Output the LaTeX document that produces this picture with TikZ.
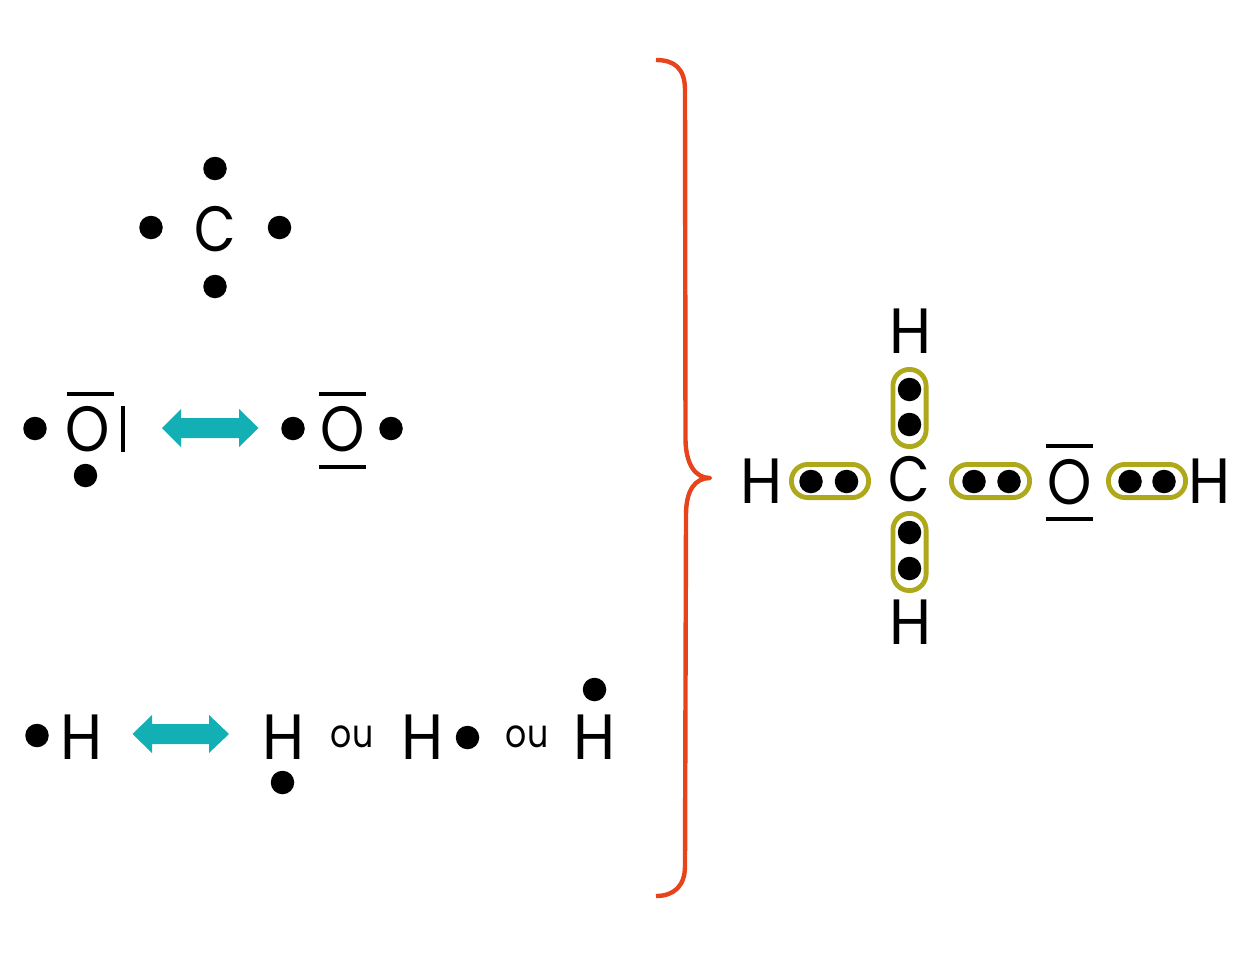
\documentclass[tikz,border=0pt]{standalone}
\usepackage{fontspec}
\setmainfont{Poppins}
\newcommand{\elH}{\scalebox{0.95}[1]{H}}
\newcommand{\elO}{\scalebox{0.88}[1]{O}}
\newcommand{\elC}{\scalebox{0.84}[1]{C}}
\tikzset{
  atom/.style={inner sep=0pt,outer sep=0pt,text=black,font=\fontsize{64}{64}\selectfont},
  small/.style={inner sep=0pt,outer sep=0pt,text=black,font=\fontsize{39}{39}\selectfont},
  dot/.style={circle,fill=black,minimum size=23.5pt,inner sep=0pt,outer sep=0pt},
  pair/.style={draw=pairc,line width=4.8pt,rounded corners=16.5pt,fill=none},
  bar/.style={draw=black,line width=3.6pt},
  swap/.style={fill=teal1,draw=none},
  brace/.style={draw=bracec,line width=4.4pt,line join=round}
}
\definecolor{pairc}{HTML}{ADA91A}
\definecolor{teal1}{HTML}{12B0B5}
\definecolor{bracec}{HTML}{E8441C}
\begin{document}
\begin{tikzpicture}[x=1pt,y=-1pt]
\useasboundingbox (0,0) rectangle (1251,961);
% C
\node[atom] (c0) at (215,229.5) {\elC};
\node[dot] (c1) at (215,168.5) {};
\node[dot] (c2) at (151,227.5) {};
\node[dot] (c3) at (279.5,227.5) {};
\node[dot] (c4) at (215,286.5) {};
% O row
\node[dot] (o1d1) at (35,428.5) {};
\node[atom] (o1) at (88,429.5) {\elO};
\node[dot] (o1d2) at (85.5,475.5) {};
\draw[bar] (67,394) -- (114,394);
\draw[bar] (123,406) -- (123,452);
\fill[swap] (162,428) -- (181,409) -- (181,418) -- (239,418) -- (239,409) -- (258.5,428) -- (239,447) -- (239,438) -- (181,438) -- (181,447) -- cycle;
\node[dot] (o2d1) at (293,428.5) {};
\node[atom] (o2) at (342.5,429.5) {\elO};
\node[dot] (o2d2) at (391,428.5) {};
\draw[bar] (319,394) -- (366,394);
\draw[bar] (319,467) -- (366,467);
% H row
\node[dot] (h1d) at (37,735.5) {};
\node[atom] (h1) at (81.5,737) {\elH};
\fill[swap] (132.5,734) -- (152,715) -- (152,724) -- (209,724) -- (209,715) -- (229,734) -- (209,753) -- (209,744) -- (152,744) -- (152,753) -- cycle;
\node[atom] (h2) at (283.5,737) {\elH};
\node[dot] (h2d) at (282.5,782.5) {};
\node[small] (ou1) at (352,737) {\scalebox{0.85}[1]{ou}};
\node[atom] (h3) at (423,737) {\elH};
\node[dot] (h3d) at (467.5,737.5) {};
\node[small] (ou2) at (527,737) {\scalebox{0.85}[1]{ou}};
\node[atom] (h4) at (595,737) {\elH};
\node[dot] (h4d) at (594.5,689.5) {};
% brace
\draw[brace] (656,60) .. controls (674,60) and (685,68) .. (685,90)
  -- (685.5,440) .. controls (686,464) and (695,478) .. (710,478)
  .. controls (695,478) and (686,490) .. (686,515)
  -- (685,866) .. controls (685,886) and (674,896) .. (656,896);
% Lewis structure
\node[atom] (rC) at (909,479.5) {\elC};
\node[atom] (rHt) at (910.5,331) {\elH};
\node[atom] (rHb) at (910.5,622) {\elH};
\node[atom] (rHl) at (761.5,481) {\elH};
\node[atom] (rO) at (1069.5,482.5) {\elO};
\node[atom] (rHr) at (1209.5,481) {\elH};
\draw[bar] (1046,446) -- (1093,446);
\draw[bar] (1046,519) -- (1093,519);
\draw[pair] (892.9,369.4) rectangle (926.1,446.6);
\draw[pair] (892.9,513.4) rectangle (926.1,590.6);
\draw[pair] (791.4,464.4) rectangle (868.6,497.6);
\draw[pair] (951.4,464.4) rectangle (1029.6,497.6);
\draw[pair] (1108.4,464.4) rectangle (1185.6,497.6);
\node[dot] (t1) at (909.5,389.5) {};
\node[dot] (t2) at (909.5,424.5) {};
\node[dot] (b1) at (909.5,532.5) {};
\node[dot] (b2) at (909.5,568.5) {};
\node[dot] (l1) at (811,481.5) {};
\node[dot] (l2) at (846.5,481.5) {};
\node[dot] (m1) at (974,481.5) {};
\node[dot] (m2) at (1009,481.5) {};
\node[dot] (r1) at (1130,481.5) {};
\node[dot] (r2) at (1164,481.5) {};
\end{tikzpicture}
\end{document}
